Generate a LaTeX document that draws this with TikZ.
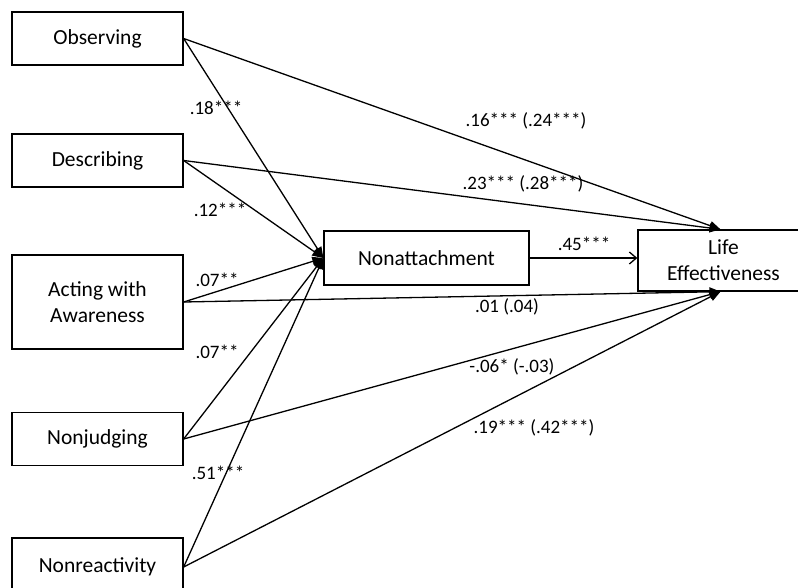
\documentclass[tikz,border=0pt]{standalone}
\usepackage{fontspec}
\setmainfont{Carlito}
\usetikzlibrary{arrows.meta, positioning}

\begin{document}
\begin{tikzpicture}[x=1pt, y=-1pt,
  facet/.style={rectangle, draw, line width=1.3pt, minimum width=171pt, minimum height=53pt, align=center, font=\fontsize{21.5}{26}\selectfont},
  link/.style={line width=1.3pt, -{Triangle[length=11pt, width=9pt]}},
  coef/.style={font=\fontsize{19}{22}\selectfont, inner sep=0pt},
]
\clip (0,0) rectangle (798,588);
\node[facet] (obs) at (97.5,38.5) {Observing};
\node[facet] (desc) at (97.5,160.5) {Describing};
\node[facet, minimum height=94pt] (act) at (97.5,302) {Acting with\\Awareness};
\node[facet] (nonj) at (97.5,439) {Nonjudging};
\node[facet, minimum height=58pt] (nonr) at (97.5,567) {Nonreactivity};
\node[facet, minimum width=205pt, minimum height=54pt] (nona) at (426.5,258) {Nonattachment};
\node[facet, minimum height=61pt] (life) at (723.5,260.5) {Life\\Effectiveness};

% facets -> mediator
\foreach \f in {obs, desc, act, nonj, nonr}
  \draw[link] (\f.east) -- (nona.west);
% direct paths
\draw[link] (obs.east) -- ([xshift=-3pt]life.north);
\draw[link] (desc.east) -- ([xshift=-3pt]life.north);
\draw[link] (act.east) -- ([xshift=-3pt]life.south);
\draw[link] (nonj.east) -- ([xshift=-3pt]life.south);
\draw[link] (nonr.east) -- ([xshift=-3pt]life.south);
\draw[line width=1.3pt, -{Straight Barb[length=7pt, width=12pt]}] (nona.east) -- (nona.east -| life.west);

% coefficients
\node[coef] (c1) at (216,108) {.18***};
\node[coef] (c2) at (220,210) {.12***};
\node[coef] (c3) at (217,280) {.07**};
\node[coef] (c4) at (217,352) {.07**};
\node[coef] (c5) at (218,473) {.51***};
\node[coef] (d1) at (526,121) {.16*** (.24***)};
\node[coef] (d2) at (523,184) {.23*** (.28***)};
\node[coef] (m1) at (584,244) {.45***};
\node[coef] (d3) at (507,307) {.01 (.04)};
\node[coef] (d4) at (512,367) {-.06* (-.03)};
\node[coef] (d5) at (534,428) {.19*** (.42***)};
\end{tikzpicture}
\end{document}
